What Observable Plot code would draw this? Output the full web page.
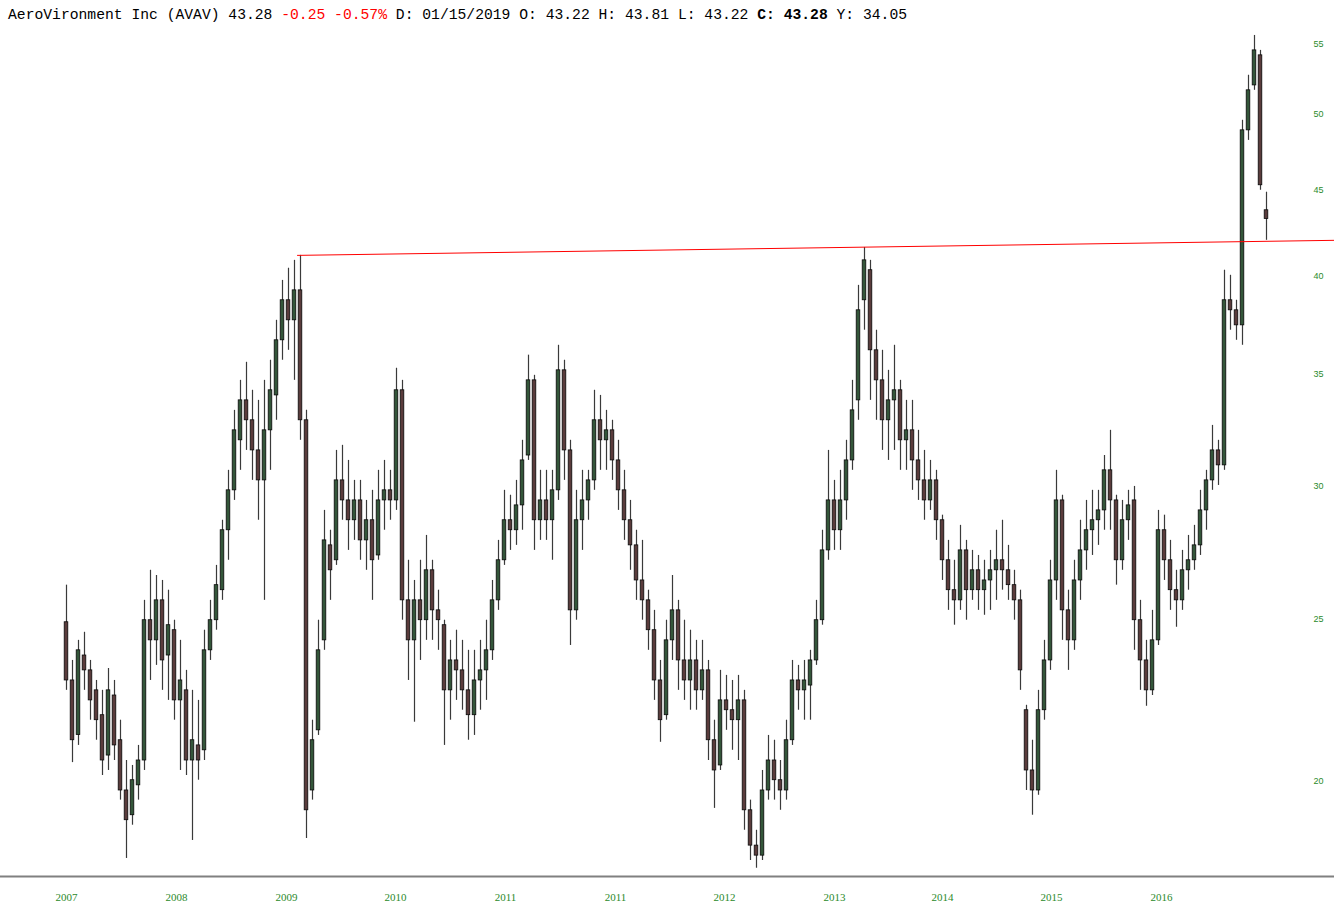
<!DOCTYPE html>
<html><head><meta charset="utf-8">
<script src="https://cdn.jsdelivr.net/npm/d3@7"></script>
<script src="https://cdn.jsdelivr.net/npm/@observablehq/plot@0.6"></script>
<style>
html,body{margin:0;padding:0;background:#fff;}
#title{height:30px;line-height:30px;padding-left:8px;font-family:"Liberation Mono","DejaVu Sans Mono",monospace;font-size:14.7px;color:#000;white-space:pre;}
.neg{color:#ff0000}
#chart svg{display:block}
</style></head><body>
<div id="title"></div>
<div id="chart"></div>
<script>
// ---- header values ----
const company = "AeroVironment Inc (AVAV)";
const lastPrice = "43.28", change = "-0.25", changePct = "-0.57%";
const dateStr = "01/15/2019";
const ohlcLast = {O:"43.22", H:"43.81", L:"43.22", C:"43.28", Y:"34.05"};

// ---- axis labels ----
const yTicks = [20, 25, 30, 35, 40, 45, 50, 55];
const xTickLabels = ["2007","2008","2009","2010","2011","2011","2012","2013","2014","2015","2016"];
const xTickAt = [0, 18.33, 36.67, 54.83, 73.17, 91.5, 109.67, 128, 146, 164.17, 182.5];

// ---- candle data (one candle per period) ----
const opens = [
24.88,22.97,21.31,23.77,23.29,22.66,21.90,20.72,22.50,21.16,
19.75,19.09,19.89,20.58,24.95,24.27,25.64,23.77,24.61,22.35,
22.66,20.58,21.01,20.87,23.94,24.95,26.00,28.23,29.82,31.94,
33.74,32.83,31.50,30.23,32.38,33.97,36.64,38.71,37.66,39.24,
32.83,19.75,21.45,24.27,27.65,27.09,30.23,29.41,28.62,29.41,
27.84,28.62,27.27,29.41,29.82,29.41,34.21,25.64,24.27,25.64,
24.95,26.72,25.29,24.78,22.66,23.61,23.29,22.66,21.90,22.97,
23.29,23.94,25.64,27.09,28.62,28.23,29.21,31.28,34.68,28.62,
29.41,28.62,29.82,35.16,31.50,25.29,28.62,29.41,30.23,32.83,
31.94,32.38,31.07,29.82,28.62,27.65,26.35,25.64,24.61,22.97,
21.90,24.27,25.29,23.61,22.97,23.61,22.66,23.29,21.16,20.44,
22.35,22.05,21.75,22.35,19.22,18.31,18.06,19.75,20.58,20.03,
19.75,21.16,22.97,22.66,22.81,23.61,24.95,27.46,29.41,28.23,
29.41,31.07,33.74,38.71,40.34,36.14,34.68,32.83,33.74,34.21,
31.94,32.38,31.07,30.23,29.41,30.23,28.62,27.09,26.00,25.64,
27.46,26.00,26.72,26.00,26.35,26.72,27.09,26.72,26.18,25.64,
22.05,20.30,19.75,22.05,23.61,26.35,29.41,25.29,24.27,26.35,
27.46,28.23,28.62,29.01,30.65,29.41,27.09,28.62,29.41,24.95,
23.61,22.66,24.27,28.23,27.09,26.00,25.64,26.72,27.09,27.65,
29.01,30.23,31.50,30.86,38.71,38.18,37.40,48.88,51.99,54.18,
43.80];
const highs = [
26.18,23.61,24.27,24.54,23.61,22.97,22.66,23.35,22.97,21.75,
20.58,20.44,21.01,25.64,26.72,26.53,26.35,26.00,24.95,24.27,
23.29,22.66,22.35,24.61,25.64,26.90,28.62,30.65,33.28,34.68,
35.55,34.21,33.74,34.68,35.65,37.66,39.78,40.45,40.89,41.17,
33.28,21.75,24.95,29.01,28.23,31.50,31.72,31.07,30.23,30.23,
29.41,29.82,30.65,31.07,30.65,35.26,34.68,27.09,26.35,27.09,
28.03,27.09,26.00,24.95,24.27,24.61,24.27,23.94,23.94,24.27,
24.95,26.35,27.84,29.82,29.62,30.23,31.94,35.90,34.92,30.65,
30.65,30.65,36.39,35.65,31.94,29.82,30.65,30.65,34.21,33.97,
33.28,32.83,31.94,30.65,29.41,28.23,27.84,26.00,25.29,23.61,
24.95,26.53,25.64,24.95,24.61,24.27,24.27,23.61,21.75,23.29,
23.13,22.97,23.13,22.66,19.49,18.70,20.30,21.30,21.16,20.58,
21.75,23.61,23.45,23.61,23.94,25.64,28.23,31.50,30.23,30.65,
31.94,34.68,39.51,41.62,40.89,37.15,36.14,35.16,36.39,34.68,
33.74,33.74,32.38,31.50,31.07,30.65,28.82,27.84,27.09,28.42,
27.84,27.46,27.27,27.09,27.46,28.23,28.62,27.65,26.72,26.00,
22.20,21.16,22.66,24.27,27.09,30.65,29.62,26.00,27.09,28.62,
29.41,29.82,29.82,31.28,32.38,29.62,29.41,29.82,29.98,25.64,
24.27,25.29,29.01,28.82,27.84,26.72,27.46,28.03,28.42,29.82,
30.65,32.60,31.94,40.34,40.06,38.71,49.56,52.72,55.68,54.55,
44.90];
const lows = [
22.66,20.52,21.01,22.66,21.75,21.16,20.16,20.30,20.58,19.49,
17.99,18.83,19.49,20.30,22.97,23.45,22.66,22.35,21.75,20.30,
20.16,18.44,20.03,20.58,23.61,24.61,25.64,27.09,29.41,30.65,
31.50,30.23,28.62,25.64,30.65,32.83,35.65,36.14,34.68,31.94,
18.49,19.49,21.30,23.94,25.64,26.90,28.62,27.46,27.84,27.09,
26.72,25.64,27.09,28.23,28.62,29.01,24.95,22.97,21.69,23.61,
24.27,24.27,23.94,21.01,21.75,22.35,22.05,21.16,21.30,22.05,
22.35,23.61,25.29,26.90,27.46,27.65,28.23,31.07,27.46,27.84,
27.84,27.09,29.41,30.23,24.10,24.95,27.46,28.62,29.82,30.65,
30.65,30.23,29.01,27.84,26.72,25.64,24.95,23.94,22.35,21.10,
21.75,23.61,22.66,22.35,22.05,22.05,22.35,20.58,19.27,20.30,
21.45,20.87,20.58,18.70,17.94,17.75,17.94,19.49,19.49,19.22,
19.49,21.01,22.05,21.75,21.75,23.45,24.78,27.09,27.46,27.46,
28.62,30.65,32.83,37.15,33.74,32.83,31.50,31.07,31.50,30.65,
30.65,29.82,29.41,28.62,29.01,27.84,26.35,25.29,24.78,25.29,
24.95,25.64,25.29,25.12,25.29,25.64,26.00,25.64,24.95,22.66,
19.75,19.09,19.62,21.75,23.29,25.64,24.27,23.29,23.94,25.64,
26.72,27.27,27.65,28.23,28.23,26.18,26.72,27.84,23.94,22.66,
22.17,22.50,24.10,26.35,25.29,24.71,25.29,26.00,26.72,27.27,
28.23,29.82,30.02,30.65,37.15,36.64,36.39,48.21,51.64,45.02,
42.03];
const closes = [
22.97,21.16,23.94,23.29,22.35,21.75,20.58,22.66,21.01,19.75,
18.96,20.03,20.58,24.95,24.27,25.64,23.61,24.78,22.35,22.97,
20.58,21.16,20.58,23.94,24.95,26.18,28.23,29.82,32.38,33.74,
32.83,31.50,30.23,32.38,34.21,36.64,38.71,37.66,39.24,32.83,
19.22,21.16,23.94,27.84,26.72,30.23,29.41,28.62,29.41,27.84,
28.62,27.09,29.41,29.82,29.41,34.21,25.64,24.27,25.64,24.95,
26.72,25.29,24.95,22.66,23.61,23.29,22.66,21.90,22.97,23.29,
23.94,25.64,27.09,28.62,28.23,29.21,31.07,34.68,28.62,29.41,
28.62,29.82,35.16,31.50,25.29,28.62,29.41,30.23,32.83,31.94,
32.38,31.07,29.82,28.62,27.65,26.35,25.64,24.61,22.97,21.75,
24.27,25.29,23.61,22.97,23.61,22.66,23.29,21.16,20.30,22.35,
22.05,21.75,22.35,19.22,18.31,18.06,19.75,20.58,20.03,19.75,
21.16,22.97,22.66,22.97,23.61,24.95,27.46,29.41,28.23,29.41,
31.07,33.28,38.18,40.89,36.14,34.68,32.83,33.74,34.21,31.94,
32.38,31.07,30.23,29.41,30.23,28.62,27.09,26.00,25.64,27.46,
26.00,26.72,26.00,26.35,26.72,27.09,26.72,26.18,25.64,23.29,
20.30,19.75,22.05,23.61,26.35,29.41,25.29,24.27,26.35,27.46,
28.23,28.62,29.01,30.65,29.41,27.09,28.62,29.21,24.95,23.61,
22.66,24.27,28.23,27.09,26.00,25.64,26.72,27.09,27.65,29.01,
30.23,31.50,30.86,38.71,38.18,37.40,48.88,51.64,54.55,45.33,
43.28];

// ---- red trend line (two anchor points: candle position, price) ----
const trendAt = [38.5, 211.33];
const trendPrice = [41.17, 42.03];

// ---- header ----
document.getElementById("title").innerHTML =
  `${company} ${lastPrice} <span class="neg">${change} ${changePct}</span> D: ${dateStr} O: ${ohlcLast.O} H: ${ohlcLast.H} L: ${ohlcLast.L} <b>C: ${ohlcLast.C}</b> Y: ${ohlcLast.Y}`;

const candles = opens.map((o, i) => ({i, open: o, high: highs[i], low: lows[i], close: closes[i]}));
const trend = trendAt.map((t, k) => ({i: t, v: trendPrice[k]}));
const yMin = 17.55, yMax = 56.06;
const green = "#2b8a2b";

const chart = Plot.plot({
  width: 1334, height: 887,
  marginTop: 0, marginBottom: 41, marginLeft: 0, marginRight: 0,
  style: {background: "#fff", overflow: "visible"},
  x: {type: "linear", domain: [-11, 211.333]},
  y: {type: "log", domain: [yMin, yMax]},
  marks: [
    Plot.ruleY([yMin], {stroke: "#808080", strokeWidth: 2}),
    Plot.ruleX(candles, {x: "i", y1: "low", y2: "high", stroke: "#3a3a3a", strokeWidth: 1.2}),
    Plot.rect(candles, {
      x1: d => d.i - 0.3, x2: d => d.i + 0.3, y1: "open", y2: "close",
      fill: d => d.close >= d.open ? "#34563a" : "#5a3c3c",
      stroke: "#0a0a0a", strokeWidth: 0.8
    }),
    Plot.line(trend, {x: "i", y: "v", stroke: "#ff0000", strokeWidth: 1}),
    Plot.axisY({anchor: "right", ticks: yTicks, tickSize: 0, tickPadding: 0, dx: -11,
      textAnchor: "end", fill: green, fontSize: 9, fontFamily: "Liberation Sans",
      tickFormat: d => String(d), label: null}),
    Plot.axisX({anchor: "bottom", ticks: xTickAt, tickSize: 0, tickPadding: 17,
      tickFormat: (d, i) => xTickLabels[i], fill: green, fontSize: 11,
      fontFamily: "Liberation Serif", label: null})
  ]
});
document.getElementById("chart").appendChild(chart);
</script>
</body></html>
